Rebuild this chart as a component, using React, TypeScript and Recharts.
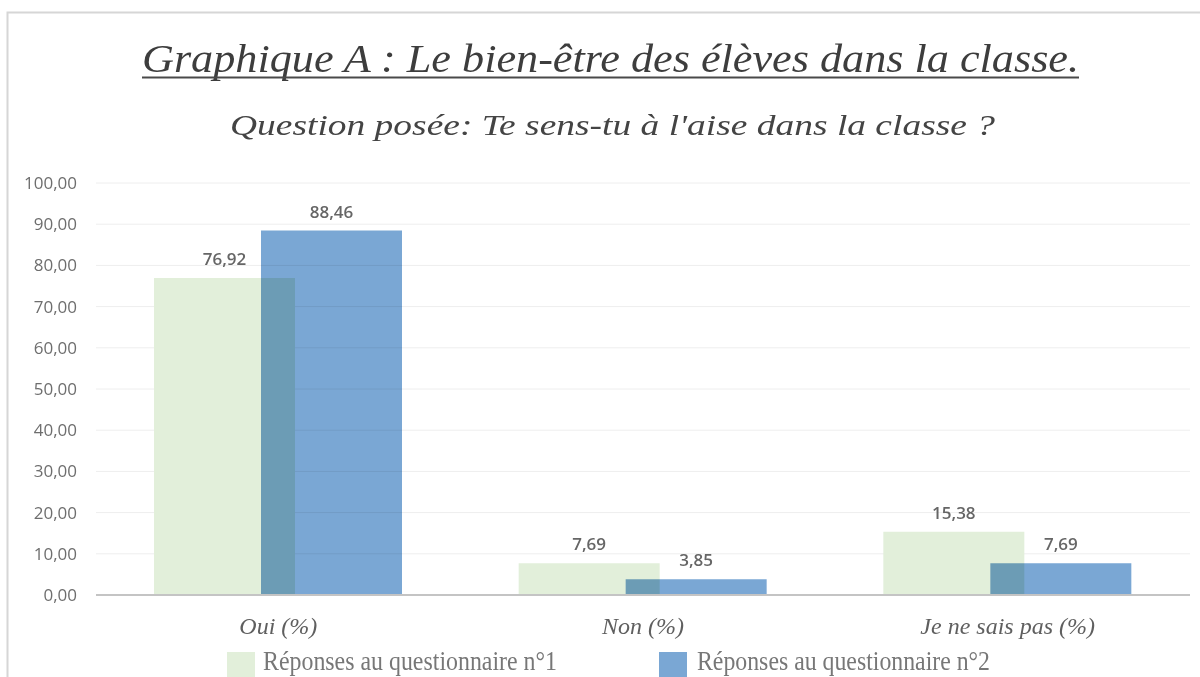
import React from "react";
import { BarChart, Bar, XAxis, YAxis, CartesianGrid, Legend, LabelList } from "recharts";

const categories = ["Oui (%)", "Non (%)", "Je ne sais pas (%)"];
const questionnaire1 = [76.92, 7.69, 15.38];
const questionnaire2 = [88.46, 3.85, 7.69];
const yTicks = [0, 10, 20, 30, 40, 50, 60, 70, 80, 90, 100];
const seriesNames = ["Réponses au questionnaire n°1", "Réponses au questionnaire n°2"];

const data = categories.map((c, i) => ({ cat: c, q1: questionnaire1[i], q2: questionnaire2[i] }));

const GREEN = "#e2efda";
const BLUE = "#7aa7d4";
const fmt = (v: number) => v.toFixed(2).replace(".", ",");
const sans = "'Open Sans', 'Liberation Sans', sans-serif";
const serif = "'Liberation Serif', 'Times New Roman', serif";

const CatTick = ({ x, y, payload }: any) => (
  <text x={x} y={y + 39} textAnchor="middle" fontFamily={serif} fontStyle="italic" fontSize={24} fill="#5f5f5f">
    {payload.value}
  </text>
);

// legend positions
const legendPos = [
  { box: 227, text: 263, len: 294 },
  { box: 659, text: 697, len: 293 },
];

const LegendBox = ({ payload }: any) => (
  <svg width={1200} height={37} style={{ display: "block" }}>
    {(payload || []).map((p: any, i: number) => {
      const pos = legendPos[i];
      if (!pos) return null;
      return (
        <g key={i}>
          <rect x={pos.box} y={12} width={28} height={30} fill={p.color} />
          <text x={pos.text} y={30} fontFamily={serif} fontSize={28} fill="#777" textLength={pos.len} lengthAdjust="spacingAndGlyphs">
            {p.value}
          </text>
        </g>
      );
    })}
  </svg>
);

export default function App() {
  return (
    <div style={{ position: "absolute", left: 0, top: 0, width: 1200, height: 677, background: "#fff", overflow: "hidden" }}>
      <svg width={1200} height={677} style={{ position: "absolute", left: 0, top: 0 }}>
        <rect x={7.5} y={12.5} width={1200} height={700} fill="none" stroke="#d6d6d6" strokeWidth={2} />
        <text x={142} y={72} fontFamily={serif} fontStyle="italic" fontSize={40} fill="#3d3d3d" textLength={937} lengthAdjust="spacingAndGlyphs">
          Graphique A : Le bien-être des élèves dans la classe.
        </text>
        <line x1={142} x2={1079} y1={77.5} y2={77.5} stroke="#4a4a4a" strokeWidth={2} />
        <text x={230} y={135} fontFamily={serif} fontStyle="italic" fontSize={30} fill="#444" textLength={765} lengthAdjust="spacingAndGlyphs">
          Question posée: Te sens-tu à l'aise dans la classe ?
        </text>
      </svg>
      <div style={{ position: "absolute", left: 0, top: 0 }}>
        <BarChart width={1200} height={677} data={data} margin={{ top: 183, right: 10, bottom: 42, left: 0 }} barSize={141} barGap={-34}>
          <CartesianGrid stroke="#eeeeee" vertical={false} />
          <XAxis
            dataKey="cat"
            tick={<CatTick />}
            tickLine={false}
            tickSize={0}
            tickMargin={0}
            height={40}
            axisLine={{ stroke: "#c4c4c4", strokeWidth: 2 }}
            interval={0}
          />
          <YAxis
            domain={[0, 100]}
            ticks={yTicks}
            tickFormatter={fmt}
            width={96}
            axisLine={false}
            tickLine={false}
            tickSize={0}
            tickMargin={19}
            tick={{ fontSize: 17, fill: "#6e6e6e", fontFamily: sans }}
          />
          <Legend
            layout="horizontal"
            verticalAlign="middle"
            align="center"
            content={<LegendBox />}
            wrapperStyle={{ left: 0, top: 640, width: 1200, height: 37 }}
          />
          <Bar dataKey="q1" name={seriesNames[0]} fill={GREEN} isAnimationActive={false}>
            <LabelList dataKey="q1" position="top" offset={13} formatter={fmt} fill="#666" fontSize={17} fontWeight={600} fontFamily={sans} />
          </Bar>
          <Bar dataKey="q2" name={seriesNames[1]} fill={BLUE} isAnimationActive={false} style={{ mixBlendMode: "multiply" }}>
            <LabelList dataKey="q2" position="top" offset={13} formatter={fmt} fill="#666" fontSize={17} fontWeight={600} fontFamily={sans} />
          </Bar>
        </BarChart>
      </div>
    </div>
  );
}
